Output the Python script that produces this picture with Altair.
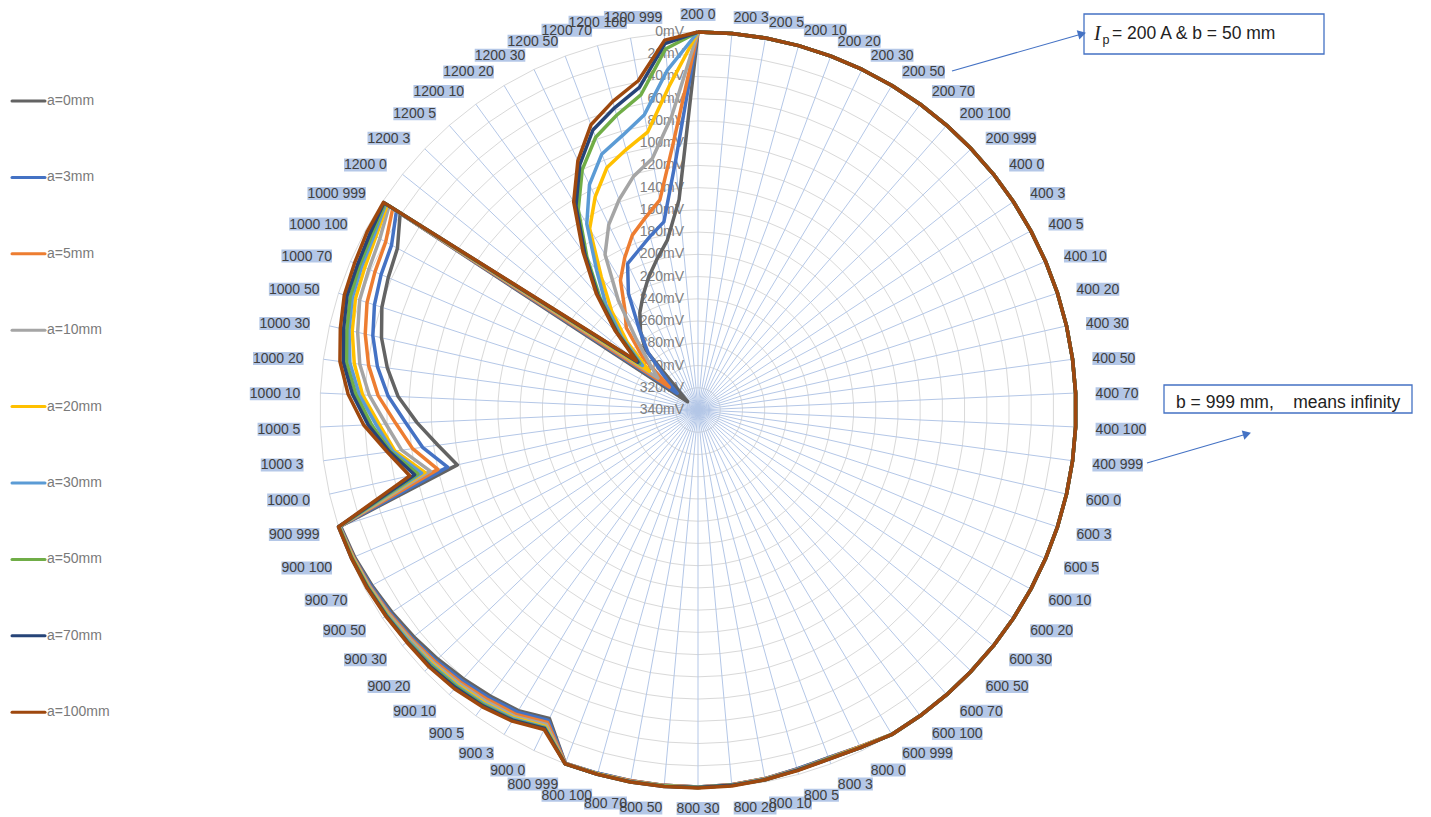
import altair as alt
import pandas as pd

# ---------------- data ----------------
IP = [200, 400, 600, 800, 900, 1000, 1200]
B = [0, 3, 5, 10, 20, 30, 50, 70, 100, 999]
categories = [f"{ip} {b}" for ip in IP for b in B]

series = ["a=0mm", "a=3mm", "a=5mm", "a=10mm", "a=20mm",
          "a=30mm", "a=50mm", "a=70mm", "a=100mm"]
colors = ["#636363", "#4472C4", "#ED7D31", "#A5A5A5", "#FFC000",
          "#5B9BD5", "#70AD47", "#264478", "#9E480E"]

radial_ticks = list(range(0, 341, 20))

# Ip = 200, 400, 600 A: every series reads 0 mV for every b
low_current = [0] * 30

# Ip = 800, 900, 1000, 1200 A (b = 0,3,5,10,20,30,50,70,100,999), mV
a0 = [4, 6, 5, 3, 1.5, 1, 1, 1, 1, 0.5,
      32, 25, 22, 19, 16, 13, 10, 7, 4, 2,
      118, 104, 87, 70, 58, 48, 41, 37, 33, 19,
      328, 320, 268, 252, 238, 226, 213, 200, 185, 150]
a3 = [4, 6, 5, 3, 1.5, 1, 1, 1, 1, 0.5,
      30, 23.5, 20, 17, 14, 11, 8.5, 6, 3, 1.5,
      109, 90, 77, 61, 49, 40, 34, 30, 27, 15,
      316, 302, 272, 250, 218, 194, 187, 178, 168, 115]
a5 = [4, 5.5, 4.5, 3, 1.5, 1, 1, 1, 0.5, 0.5,
      28, 21, 18, 15, 12.5, 10, 7.5, 5, 3, 1,
      100, 81, 68, 52, 41, 33, 27, 24, 21, 11,
      307, 271, 242, 228, 204, 188, 172, 161, 148, 97]
a10 = [3.5, 5, 4.5, 2.5, 1, 1, 0.5, 0.5, 0.5, 0,
       26, 19, 16, 13.5, 11, 9, 6.5, 4.5, 2.5, 1,
       93, 71, 59, 44, 33, 26, 20, 18, 15, 7,
       294, 280, 256, 218, 177, 155, 138, 122, 110, 75]
a20 = [3.5, 5, 4, 2.5, 1, 0.5, 0.5, 0.5, 0.5, 0,
       24, 17.5, 14, 11.5, 9.5, 7.5, 5.5, 3.5, 2, 0.5,
       88, 65, 53, 38, 28, 21, 16, 14, 11, 5,
       284, 252, 222, 192, 150, 127, 107, 97, 86, 48]
a30 = [3, 5, 4, 2.5, 1, 0.5, 0.5, 0.5, 0, 0,
       23, 16.5, 13, 10.5, 8.5, 7, 5, 3, 1.5, 0.5,
       85, 63, 50, 35, 24, 18, 13, 11, 9, 3.5,
       276, 245, 214, 185, 145, 115, 94, 84, 70, 33]
a50 = [3, 5, 4, 2, 1, 0.5, 0.5, 0, 0, 0,
       22.5, 15.5, 12, 9.5, 7.5, 6, 4.5, 3, 1.5, 0.5,
       81.5, 61, 46, 32, 21, 16, 11, 9, 7, 2.5,
       273, 241, 206, 170, 130, 100, 78, 65, 52, 14]
a70 = [3, 4.5, 4, 2, 1, 0.5, 0, 0, 0, 0,
       22, 15, 11, 8.5, 6.5, 5.5, 4, 2.5, 1, 0,
       78.5, 60, 43, 29, 18, 13, 8, 7, 5, 1.5,
       271, 239, 203, 167, 126, 95, 71, 58, 45, 9]
a100 = [3, 4.5, 3.5, 2, 0.5, 0, 0, 0, 0, 0,
        21, 14, 10, 7, 5.5, 5, 3.5, 2, 1, 0,
        74, 58, 39, 25, 15, 10, 5.5, 4, 2, 1,
        269, 237, 201, 164, 122, 91, 66, 52, 39, 6]
series_values = [a0, a3, a5, a10, a20, a30, a50, a70, a100]

# ---------------- layout ----------------
W, H = 1415, 809
CX, CY = 690, 402            # polar centre inside the plot (px)
K = 378 / 340                # px per mV of radius
N = len(categories)
XS = alt.Scale(domain=[-CX / K, (W - CX) / K], nice=False, zero=False)
YS = alt.Scale(domain=[-(H - CY) / K, CY / K], nice=False, zero=False)


def pg(px, py):
    """page pixel -> data units (layout helper for annotations)"""
    return (px - 8 - CX) / K, (CY - (py - 8)) / K


TH = f"datum.idx * 2 * PI / {N}"

# ---------------- tables ----------------
line_rows = []
for name, vals in zip(series, series_values):
    full = low_current + vals
    for i in range(N + 1):
        line_rows.append({"series": name, "idx": i, "v": full[i % N]})
lines_df = pd.DataFrame(line_rows)

grid_df = pd.DataFrame([{"lev": t, "idx": i} for t in radial_ticks[:-1] for i in range(N + 1)])
spoke_df = pd.DataFrame({"idx": list(range(N))})
tick_df = pd.DataFrame({"v": radial_ticks, "label": [f"{t}mV" for t in radial_ticks]})
cat_df = pd.DataFrame({"idx": list(range(N)), "label": categories})

enc_xy = dict(x=alt.X("x:Q", scale=XS, axis=None), y=alt.Y("y:Q", scale=YS, axis=None))

grid = alt.Chart(grid_df).transform_calculate(
    th=TH, x="(340 - datum.lev) * sin(datum.th)", y="(340 - datum.lev) * cos(datum.th)"
).mark_line(color="#D9D9D9", strokeWidth=1).encode(
    detail="lev:N", order="idx:Q", **enc_xy)

spokes = alt.Chart(spoke_df).transform_calculate(
    th=TH, x="0", y="0", xe="340 * sin(datum.th)", ye="340 * cos(datum.th)"
).mark_rule(color="#B4C7E7", strokeWidth=1).encode(
    x2="xe:Q", y2="ye:Q", **enc_xy)

rlabels = alt.Chart(tick_df).transform_calculate(
    x="0", y="340 - datum.v"
).mark_text(align="right", baseline="middle", dx=-14, fontSize=14,
            font="Liberation Sans", color="#808080").encode(text="label:N", **enc_xy)

series_layers = []
for name, col in zip(series, colors):
    series_layers.append(
        alt.Chart(lines_df).transform_filter(alt.datum.series == name).transform_calculate(
            th=TH, x="(340 - datum.v) * sin(datum.th)", y="(340 - datum.v) * cos(datum.th)"
        ).mark_line(color=col, strokeWidth=3.5, strokeJoin="round").encode(order="idx:Q", **enc_xy)
    )

LBL = 398 / K
cat_base = alt.Chart(cat_df).transform_calculate(
    th=TH, s="sin(datum.th)", c="cos(datum.th)",
    w=f"((length(datum.label) - 1) * 7.785 + 3.89) / {K}",
    h=f"13 / {K}",
    px=f"{LBL} * datum.s", py=f"{LBL} * datum.c",
).transform_calculate(
    x="abs(datum.s) < 0.01 ? datum.px : (datum.s > 0 ? datum.px + datum.w / 2 : datum.px - datum.w / 2)",
    y=(f"abs(datum.s) < 0.01 ? (datum.c > 0 ? datum.py + datum.h / 2 - 9 / {K} "
       f": datum.py - datum.h / 2 + 6 / {K}) "
       f": datum.py - (1.5 + 2.5 * max(datum.c, 0)) / {K}"),
).transform_calculate(
    x1="datum.x - datum.w / 2", x2="datum.x + datum.w / 2",
    y1="datum.y - datum.h / 2", y2="datum.y + datum.h / 2",
)
cat_bg = cat_base.mark_rect(color="#B4C7E7").encode(
    x=alt.X("x1:Q", scale=XS, axis=None), x2="x2:Q",
    y=alt.Y("y1:Q", scale=YS, axis=None), y2="y2:Q")
cat_txt = cat_base.mark_text(align="center", baseline="middle", dy=0.5, fontSize=14,
                             font="Liberation Sans", color="#404040").encode(text="label:N", **enc_xy)

# legend (manual, left column)
leg_rows = []
for i, name in enumerate(series):
    yy = 101 + 76.4 * i
    x1, y1 = pg(12, yy)
    x2, _ = pg(45, yy)
    xt, _ = pg(47, yy)
    leg_rows.append({"series": name, "x": x1, "xe": x2, "y": y1, "xt": xt})
leg_df = pd.DataFrame(leg_rows)
color_scale = alt.Scale(domain=series, range=colors)
leg_lines = alt.Chart(leg_df).mark_rule(strokeWidth=3, strokeCap="round").encode(
    x=alt.X("x:Q", scale=XS, axis=None), x2="xe:Q", y=alt.Y("y:Q", scale=YS, axis=None),
    color=alt.Color("series:N", scale=color_scale, legend=None))
leg_text = alt.Chart(leg_df).mark_text(align="left", baseline="middle", fontSize=14,
                                       font="Liberation Sans", color="#7A7A7A").encode(
    x=alt.X("xt:Q", scale=XS, axis=None), y=alt.Y("y:Q", scale=YS, axis=None), text="series:N")

# annotations
boxes = []
for (l, t, r, b) in [(1084, 14, 1324, 54), (1164, 385, 1412, 413)]:
    x1, y1 = pg(l, t)
    x2, y2 = pg(r, b)
    boxes.append({"x": x1, "xe": x2, "y": y1, "ye": y2})
box_df = pd.DataFrame(boxes)
ann_boxes = alt.Chart(box_df).mark_rect(fill="white", stroke="#4472C4", strokeWidth=1.3).encode(
    x=alt.X("x:Q", scale=XS, axis=None), x2="xe:Q", y=alt.Y("y:Q", scale=YS, axis=None), y2="ye:Q")

arrows = []
for (ax, ay, bx, by) in [(952, 71, 1080, 34.5), (1147, 463, 1245, 434.5)]:
    x1, y1 = pg(ax, ay)
    x2, y2 = pg(bx, by)
    arrows.append({"x": x1, "y": y1, "xe": x2, "ye": y2})
arr_df = pd.DataFrame(arrows)
ann_arrows = alt.Chart(arr_df).mark_rule(color="#4472C4", strokeWidth=1.2).encode(
    x=alt.X("x:Q", scale=XS, axis=None), y=alt.Y("y:Q", scale=YS, axis=None), x2="xe:Q", y2="ye:Q")
heads = []
for (hx, hy) in [(1082, 33.8), (1247, 434)]:
    x1, y1 = pg(hx, hy)
    heads.append({"x": x1, "y": y1})
head_df = pd.DataFrame(heads)
ann_heads = alt.Chart(head_df).mark_point(shape="triangle-right", filled=True, size=90,
                                          color="#4472C4", opacity=1, angle=344).encode(**enc_xy)


def txt(s, px, py, size=17.5, **kw):
    x, y = pg(px, py)
    return alt.Chart(pd.DataFrame({"x": [x], "y": [y], "t": [s]})).mark_text(
        align="left", baseline="middle", fontSize=size, color="#222222", **kw
    ).encode(text="t:N", **enc_xy)


ann_text = [
    txt("I", 1094, 33.5, size=20, font="Liberation Serif", fontStyle="italic"),
    txt("p", 1102.5, 39.5, size=12.5, font="Liberation Sans"),
    txt("= 200 A & b = 50 mm", 1112, 33.5, font="Liberation Sans"),
    txt("b = 999 mm,\u00a0\u00a0\u00a0\u00a0means infinity", 1176, 403, font="Liberation Sans"),
]

chart = alt.layer(
    grid, spokes, rlabels, *series_layers, cat_bg, cat_txt,
    leg_lines, leg_text, ann_boxes, ann_arrows, ann_heads, *ann_text
).properties(
    width=W, height=H, padding=0, autosize=alt.AutoSizeParams(type="none")
).configure_view(stroke=None)

chart.save("out.html", embed_options={"renderer": "svg", "actions": False})
